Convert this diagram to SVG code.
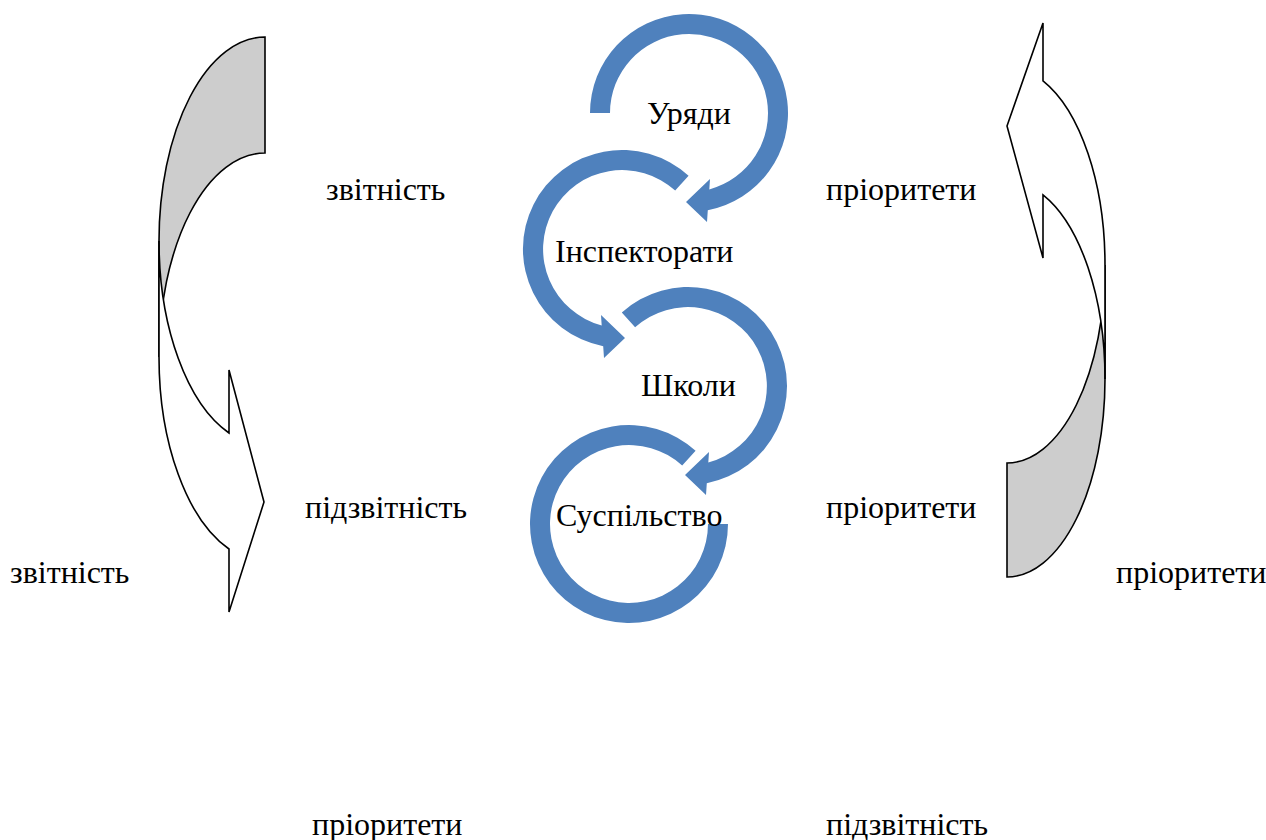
<svg xmlns="http://www.w3.org/2000/svg" width="1266" height="840" viewBox="0 0 1266 840">
<style>
.lbl{font-family:"Liberation Serif","Times New Roman",serif;font-size:32px;fill:#000}
.ca{fill:#4F81BD}
.back{fill:#CDCDCD;stroke:#000;stroke-width:1.6;stroke-linejoin:miter}
.front{fill:#FFFFFF;stroke:#000;stroke-width:1.6;stroke-linejoin:miter}
</style>
<rect width="1266" height="840" fill="#FFFFFF"/>
<g id="connectors">
  <g id="left-curved-arrow">
    <path class="back" d="M265,37 A106 204 0 0 0 159,241 L159,357 A106 204 0 0 1 265,153 Z"/>
    <path class="front" d="M159,241 A106 204 0 0 0 229,433 L229,370 L264,502 L229,612 L229,549 A106 204 0 0 1 159,357 Z"/>
  </g>
  <g id="right-curved-arrow">
    <path class="back" d="M1007,577 A98 198 0 0 0 1105,379 L1105,265 A98 198 0 0 1 1007,463 Z"/>
    <path class="front" d="M1105,265 A98 198 0 0 0 1043,80.8 L1043,23 L1007,126 L1043,258 L1043,194.8 A98 198 0 0 1 1105,379 Z"/>
  </g>
</g>
<g id="node-uriady">
  <path class="ca" d="M590,113 A99 99 0 1 1 707.8,210.2 L707,222 L686,202 L710,179 L709.3,189.4 A79 79 0 1 0 610,113 Z"/>
  <text class="lbl" x="647" y="124">Уряди</text>
</g>
<g id="node-inspektoraty">
  <path class="ca" d="M688.6,175.8 A99 99 0 1 0 603.2,346.2 L604,358 L625,338 L601,315 L601.7,325.4 A79 79 0 1 1 675.2,190.6 Z"/>
  <text class="lbl" x="555" y="262">Інспекторати</text>
</g>
<g id="node-shkoly">
  <path class="ca" d="M621.8,312.4 A99 99 0 1 1 706.8,483.2 L706,495 L685,475 L709,452 L708.3,462.4 A79 79 0 1 0 635.1,327.3 Z"/>
  <text class="lbl" x="641" y="396">Школи</text>
</g>
<g id="node-suspilstvo">
  <path class="ca" d="M695.6,450.8 A99 99 0 1 0 728,524 L708,524 A79 79 0 1 1 682.2,465.6 Z"/>
  <text class="lbl" x="556" y="526">Суспільство</text>
</g>
<g id="labels">
  <text class="lbl" x="326" y="200">звітність</text>
  <text class="lbl" x="305" y="518">підзвітність</text>
  <text class="lbl" x="10" y="583">звітність</text>
  <text class="lbl" x="826" y="200">пріоритети</text>
  <text class="lbl" x="826" y="518">пріоритети</text>
  <text class="lbl" x="1116" y="583">пріоритети</text>
  <text class="lbl" x="312" y="835">пріоритети</text>
  <text class="lbl" x="826" y="835">підзвітність</text>
</g>
</svg>
